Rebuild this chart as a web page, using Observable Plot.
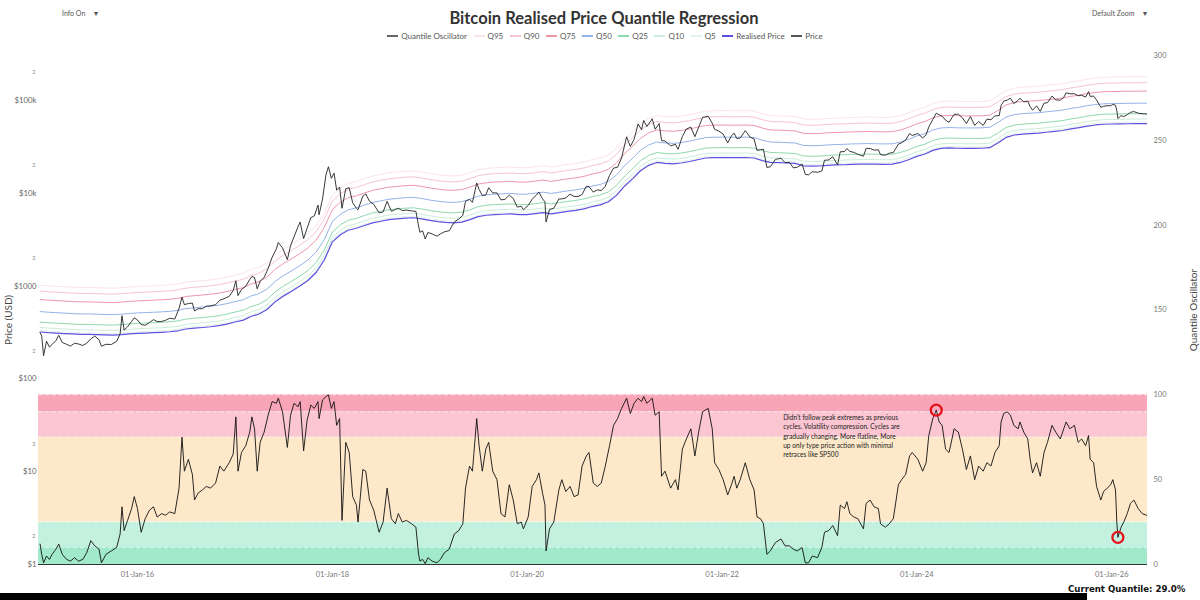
<!DOCTYPE html>
<html><head><meta charset="utf-8">
<script src="https://cdn.jsdelivr.net/npm/d3@7"></script>
<script src="https://cdn.jsdelivr.net/npm/@observablehq/plot@0.6"></script>
<style>
html,body{margin:0;padding:0;background:#fff;}
#wrap{position:relative;width:1200px;height:600px;overflow:hidden;font-family:Lato,"Open Sans",sans-serif;}
#wrap svg{position:absolute;left:0;top:0;overflow:visible;}
#title{position:absolute;top:8px;left:0;width:1208px;text-align:center;font-size:16.5px;font-weight:700;color:#333;}
#legend{position:absolute;top:31px;left:0;width:1210px;display:flex;justify-content:center;gap:6.5px;font-size:8px;color:#555;}
.item{display:flex;align-items:center;gap:3px;white-space:nowrap;}
.sw{display:inline-block;width:11px;height:2px;}
.ctl{position:absolute;top:9px;font-size:7px;color:#555;}
.axt{position:absolute;font-size:10px;color:#444;white-space:nowrap;transform:translate(-50%,-50%) rotate(-90deg);}
#cq{position:absolute;top:584px;left:1068px;font-family:"DejaVu Sans",Verdana,sans-serif;font-weight:700;font-size:8.6px;color:#111;}
#bar{position:absolute;left:0;top:593px;width:1087px;height:7px;background:#000;}
</style></head>
<body>
<div id="wrap">
  <div id="title">Bitcoin Realised Price Quantile Regression</div>
  <div id="legend"></div>
  <div class="ctl" style="left:62px">Info On&nbsp;&nbsp;&nbsp;&nbsp;▼</div>
  <div class="ctl" style="left:1092px">Default Zoom&nbsp;&nbsp;&nbsp;&nbsp;▼</div>
  <div class="axt" style="left:8px;top:320px">Price (USD)</div>
  <div class="axt" style="left:1193px;top:310px">Quantile Oscillator</div>
  <div id="cq">Current Quantile: 29.0%</div>
  <div id="bar"></div>
</div>
<script>
// ---------- data ----------
const dates = [
 // 2015
 "2015-01-01","2015-01-07","2015-01-14","2015-01-25","2015-02-05","2015-02-15","2015-03-01","2015-03-12","2015-03-25","2015-04-10",
 "2015-04-25","2015-05-10","2015-05-25","2015-06-10","2015-06-25","2015-07-10","2015-07-25","2015-08-10","2015-08-19","2015-09-05",
 "2015-09-25","2015-10-15","2015-10-28","2015-11-04","2015-11-12","2015-11-25","2015-12-10","2015-12-20",
 // 2016
 "2016-01-01","2016-01-15","2016-01-30","2016-02-15","2016-03-01","2016-03-15","2016-04-01","2016-04-15","2016-05-01","2016-05-20",
 "2016-06-05","2016-06-16","2016-06-25","2016-07-10","2016-07-25","2016-08-02","2016-08-15","2016-09-01","2016-09-15","2016-10-01",
 "2016-10-20","2016-11-05","2016-11-20","2016-12-10","2016-12-25",
 // 2017
 "2017-01-04","2017-01-12","2017-01-25","2017-02-10","2017-02-25","2017-03-05","2017-03-15","2017-03-25","2017-04-05","2017-04-20",
 "2017-05-05","2017-05-20","2017-06-05","2017-06-12","2017-06-28","2017-07-16","2017-07-28","2017-08-10","2017-08-25","2017-09-02",
 "2017-09-15","2017-09-28","2017-10-12","2017-10-25","2017-11-08","2017-11-12","2017-11-25","2017-12-08","2017-12-17","2017-12-28",
 // 2018
 "2018-01-07","2018-01-17","2018-01-28","2018-02-06","2018-02-20","2018-03-05","2018-03-18","2018-04-01","2018-04-07","2018-04-25",
 "2018-05-06","2018-05-20","2018-06-05","2018-06-25","2018-07-10","2018-07-25","2018-08-10","2018-08-25","2018-09-05","2018-09-20",
 "2018-10-05","2018-10-25","2018-11-10","2018-11-20","2018-11-25","2018-12-05","2018-12-15","2018-12-25",
 // 2019
 "2019-01-10","2019-01-28","2019-02-10","2019-02-25","2019-03-15","2019-04-03","2019-04-20","2019-05-05","2019-05-15","2019-05-30",
 "2019-06-10","2019-06-26","2019-07-05","2019-07-17","2019-07-30","2019-08-10","2019-08-25","2019-09-10","2019-09-25","2019-10-10",
 "2019-10-26","2019-11-10","2019-11-25","2019-12-10","2019-12-18",
 // 2020
 "2020-01-05","2020-01-20","2020-02-05","2020-02-14","2020-02-28","2020-03-08","2020-03-12","2020-03-25","2020-04-10","2020-04-29",
 "2020-05-10","2020-05-25","2020-06-10","2020-06-25","2020-07-10","2020-07-25","2020-08-10","2020-08-20","2020-09-05","2020-09-20",
 "2020-10-05","2020-10-20","2020-11-05","2020-11-20","2020-12-05","2020-12-20",
 // 2021
 "2021-01-08","2021-01-22","2021-02-05","2021-02-20","2021-03-05","2021-03-13","2021-03-25","2021-04-14","2021-04-25","2021-05-10",
 "2021-05-19","2021-06-01","2021-06-22","2021-07-10","2021-07-20","2021-08-05","2021-08-20","2021-09-06","2021-09-21","2021-10-05",
 "2021-10-20","2021-11-10","2021-11-25","2021-12-04","2021-12-20",
 // 2022
 "2022-01-05","2022-01-22","2022-02-05","2022-02-15","2022-02-25","2022-03-10","2022-03-29","2022-04-15","2022-05-01","2022-05-12",
 "2022-05-25","2022-06-05","2022-06-18","2022-07-01","2022-07-20","2022-08-10","2022-08-25","2022-09-10","2022-09-25","2022-10-10",
 "2022-10-28","2022-11-09","2022-11-21","2022-12-05","2022-12-25",
 // 2023
 "2023-01-10","2023-01-20","2023-02-05","2023-02-20","2023-03-10","2023-03-20","2023-04-05","2023-04-14","2023-04-25","2023-05-10",
 "2023-05-25","2023-06-15","2023-06-25","2023-07-10","2023-07-25","2023-08-10","2023-08-18","2023-09-05","2023-09-20","2023-10-05",
 "2023-10-24","2023-11-05","2023-11-20","2023-12-05","2023-12-15",
 // 2024
 "2024-01-05","2024-01-23","2024-02-05","2024-02-15","2024-03-01","2024-03-14","2024-03-25","2024-04-05","2024-04-18","2024-05-01",
 "2024-05-20","2024-06-05","2024-06-20","2024-07-05","2024-07-20","2024-08-05","2024-08-20","2024-09-06","2024-09-20","2024-10-05",
 "2024-10-20","2024-11-05","2024-11-12","2024-11-22","2024-12-05","2024-12-17","2024-12-30",
 // 2025
 "2025-01-15","2025-01-22","2025-02-05","2025-02-20","2025-03-01","2025-03-10","2025-03-25","2025-04-08","2025-04-22","2025-05-05",
 "2025-05-22","2025-06-05","2025-06-22","2025-07-05","2025-07-14","2025-07-28","2025-08-14","2025-08-28","2025-09-10","2025-09-25",
 "2025-10-06","2025-10-12","2025-10-25","2025-11-05","2025-11-21","2025-12-01","2025-12-15","2025-12-28",
 // 2026
 "2026-01-05","2026-01-15","2026-01-20","2026-01-24","2026-02-05","2026-02-15","2026-02-28","2026-03-12","2026-03-25","2026-04-10",
 "2026-04-25","2026-05-12"
];
const price = [
 315,290,178,255,220,235,258,295,247,236, 226,242,238,229,243,270,290,264,225,236, 235,254,305,480,335,365,415,455,
 432,385,378,405,435,415,416,428,450,442, 575,760,630,650,655,540,570,572,608,613, 630,705,730,775,895,
 1140,790,920,995,1180,1270,1240,935,1130,1240, 1550,2050,2520,2950,2580,1930,2720,3400,4350,4900, 3250,4200,5450,5700,7450,5880,8700,16000,19300,14500,
 16500,10800,11700,6900,11200,11500,7900,6900,6650,9300, 9850,8200,7600,6150,6300,8200,6400,6700,6900,6500, 6600,6450,6400,4450,3800,3950,3220,3780,
 3650,3450,3650,3850,3950,4900,5300,5800,8200,8600, 8000,12900,11000,9500,9600,11500,10100,10100,8500,8600, 9550,8800,7100,7250,6650,
 7400,8650,9600,10300,8700,8100,4900,6700,6900,8700, 8700,8900,9800,9250,9250,9700,11900,11800,10300,10900, 10700,11900,15600,18700,19100,24000,
 40600,32000,38000,56000,48500,61000,52500,63500,49000,56500, 37000,36600,32500,33700,29800,40900,49300,51700,40700,51500, 65900,67500,57000,49000,46700,
 43500,35000,41500,44500,39000,39400,47400,40500,38500,29000, 29500,29900,19000,19300,23200,23900,21400,21600,18800,19100, 20600,16000,15800,17100,16850,
 17400,22700,22900,24800,20200,28000,28200,30400,28300,27600, 26300,25100,30500,30400,29200,29400,26100,25700,27100,27500, 33900,35000,37400,44000,42000,
 44100,39500,42700,51800,62400,73000,70000,67800,61300,58200, 71000,71100,65000,56500,67100,54000,59400,53900,63000,62100, 68400,68600,88500,98500,101000,106000,92700,
 100500,106000,96600,98300,86000,78600,87500,76300,93500,94700, 111600,101500,100900,108000,121000,118000,118300,112500,114000,109000, 124700,111000,111500,101300,84500,86500,88000,87800,
 90800,89000,77500,64000,68800,67000,70500,74500,76000,73000, 72000,71500
];
const oscillator = [
 12,6,1,5,3,6,9,12,6,3, 2,4,2,3,7,14,11,9,1,6, 8,10,18,34,20,26,33,40,
 33,19,27,32,34,28,30,29,31,30, 45,75,55,62,53,38,42,44,46,45, 48,58,55,60,65,
 87,55,66,70,78,87,80,55,72,78, 88,96,95,98,90,69,88,95,93,96, 67,85,94,92,96,86,97,99,100,92,
 96,82,86,26,72,66,40,35,25,56, 55,38,32,19,25,45,27,24,30,25, 26,24,22,6,2,3,0.5,4,
 2,1,3,7,9,18,20,24,45,58, 55,86,70,55,68,72,55,50,30,28, 47,38,24,25,21,
 28,46,50,54,42,35,8,21,25,44, 50,43,46,40,41,58,64,66,48,46, 48,58,70,82,86,92,
 98,89,95,98,96,99,95,98,88,90, 52,55,45,50,44,68,74,80,64,78, 90,92,80,60,56,
 50,41,47,52,45,50,60,50,44,28, 27,24,6,8,13,15,11,11,9,8, 10,1,1,5,4,
 10,19,20,23,17,35,33,37,30,28, 27,21,36,38,34,33,24,22,24,27, 47,50,53,64,66,
 62,55,60,76,86,91,84,82,68,66, 80,78,68,56,64,50,58,55,60,58, 66,70,84,89,90,88,82,
 80,84,78,74,62,54,60,52,66,72, 82,78,74,80,84,80,82,72,74,70, 76,62,60,46,38,43,45,47,
 50,44,25,16,22,25,30,36,38,33, 30,29
];
// Realised price, monthly from Jan 2015 to Jun 2026
const realisedStart = "2015-01-01";
const realised = [
 320,315,312,308,305,302,302,300,298,297,300,305,
 310,312,315,318,322,330,345,352,358,365,375,390,
 410,430,470,500,560,680,780,880,1000,1150,1400,1900,
 3000,3600,4000,4200,4500,4800,5000,5200,5300,5400,5450,5300,
 5100,4950,4850,4800,4900,5200,5600,5800,5900,5950,6000,5900,
 5900,6050,6200,6000,6200,6400,6550,6800,7200,7500,8100,9500,
 12000,14500,17500,20000,21500,21000,20800,21200,22000,23000,24000,24200,
 24300,24200,24200,24300,24000,22500,21500,21400,21200,21000,19800,19600,
 19700,20000,20200,20300,20500,20600,20700,20600,20500,20600,21500,23000,
 25000,26500,29000,30500,30800,30600,30500,30500,30600,31000,35000,40000,
 42500,43500,44000,44500,45500,46500,47500,49500,51000,53000,54500,55500,
 55800,56000,56200,56300,56400,56500
];
const quantileNames  = ["Q95","Q90","Q75","Q50","Q25","Q10","Q5"];
const quantileRatios = [3.2, 2.76, 2.24, 1.66, 1.28, 1.12, 1.04];
const quantileColors = ["#fbe3e9","#f6c4cf","#ee97aa","#93b3ea","#8ed9ae","#c9eedc","#e4f4ec"];
const realisedColor = "#5d4fe0";
const priceColor = "#222";
const oscColor = "#111";

const zoneLow    = [0, 10, 25, 75, 90];
const zoneHigh   = [10, 25, 75, 90, 100];
const zoneColors = ["#a0eacb","#c4f1df","#fde9ca","#fbc5d1","#f9a5b8"];

const priceTicks      = [1,2,5,10,20,50,100,200,500,1000,2000,5000,10000,20000,50000,100000,200000];
const priceTickLabels = ["$1","2","5","$10","2","5","$100","2","5","$1000","2","5","$10k","2","5","$100k","2"];
const oscTicks = [0,50,100,150,200,250,300];
const dateTicks = ["2016-01-01","2018-01-01","2020-01-01","2022-01-01","2024-01-01","2026-01-01"];
const xDomain = ["2014-12-26","2026-05-15"];
const priceDomain = [1, 305500];
const oscDomain = [0, 300];

const legendNames  = ["Quantile Oscillator","Q95","Q90","Q75","Q50","Q25","Q10","Q5","Realised Price","Price"];
const legendColors = ["#666", ...quantileColors, realisedColor, "#555"];

const annotation = [{date:"2022-08-18", value:89, text:"Didn't follow peak extremes as previous\ncycles. Volatility compression. Cycles are\ngradually changing. More flatline, More\nup only type price action with minimal\nretraces like SP500"}];
const circledDates = ["2024-03-14","2026-01-24"];

// ---------- build ----------
const rows = dates.map((d,i)=>({date:new Date(d), price:price[i], osc:oscillator[i]}));
const months = d3.utcMonth.range(new Date(realisedStart), d3.utcMonth.offset(new Date(realisedStart), realised.length));
const realRows = months.map((m,i)=>({date:m, value:realised[i]}));
const zones = zoneLow.map((lo,i)=>({lo, hi:zoneHigh[i], color:zoneColors[i]}));
const xd = xDomain.map(d=>new Date(d));
const labelOf = new Map(priceTicks.map((t,i)=>[t, priceTickLabels[i]]));
const majorTicks = priceTicks.filter((t,i)=>priceTickLabels[i].startsWith("$"));
const minorTicks = priceTicks.filter((t,i)=>!priceTickLabels[i].startsWith("$"));
const circled = rows.filter(r=>circledDates.includes(d3.utcFormat("%Y-%m-%d")(r.date)));

const common = {width:1200, height:600, marginTop:55, marginBottom:36, marginLeft:38, marginRight:53,
  style:{background:"transparent", fontFamily:"Lato, 'Open Sans', sans-serif", color:"#666"}};

const oscPlot = Plot.plot({
  ...common,
  x:{type:"utc", domain:xd, axis:null},
  y:{domain:oscDomain, axis:null},
  marks:[
    Plot.rect(zones, {x1:()=>xd[0], x2:()=>xd[1], y1:"lo", y2:"hi", fill:"color"}),
    Plot.ruleY(zoneHigh, {stroke:"#fff", strokeOpacity:0.55, strokeDasharray:"4,3"}),
    Plot.ruleY([0], {stroke:"#333", strokeWidth:1.2}),
    Plot.axisX(dateTicks.map(d=>new Date(d)), {tickSize:0, tickPadding:7, tickFormat:d3.utcFormat("%d-%b-%y"), fontSize:7.5, color:"#777"}),
    Plot.axisY(oscTicks, {anchor:"right", tickSize:0, tickPadding:6, fontSize:7.5, color:"#777"}),
    Plot.line(rows, {x:"date", y:"osc", stroke:oscColor, strokeWidth:0.9, clip:true}),
    Plot.dot(circled, {x:"date", y:"osc", r:5.5, stroke:"#e5121b", strokeWidth:2.3, fill:"none"}),
    Plot.text(annotation, {x:d=>new Date(d.date), y:"value", text:"text", textAnchor:"start", lineAnchor:"top", lineHeight:1.4, fontSize:6.6, fill:"#222"})
  ]
});

const pricePlot = Plot.plot({
  ...common,
  x:{type:"utc", domain:xd, axis:null},
  y:{type:"log", domain:priceDomain, axis:null},
  marks:[
    Plot.axisY(majorTicks, {anchor:"left", tickSize:0, tickPadding:2, tickFormat:d=>labelOf.get(d), fontSize:7.8, color:"#666"}),
    Plot.axisY(minorTicks, {anchor:"left", tickSize:0, tickPadding:3, tickFormat:d=>labelOf.get(d), fontSize:5.5, color:"#888"}),
    ...quantileNames.map((q,i)=>Plot.line(realRows, {x:"date", y:d=>d.value*quantileRatios[i], stroke:quantileColors[i], strokeWidth:1, clip:true})),
    Plot.line(realRows, {x:"date", y:"value", stroke:realisedColor, strokeWidth:1.2, clip:true}),
    Plot.line(rows, {x:"date", y:"price", stroke:priceColor, strokeWidth:0.9, clip:true})
  ]
});

const wrap = document.getElementById("wrap");
wrap.prepend(pricePlot);
wrap.prepend(oscPlot);

const lg = document.getElementById("legend");
legendNames.forEach((n,i)=>{
  const it = document.createElement("div"); it.className="item";
  const sw = document.createElement("span"); sw.className="sw"; sw.style.background=legendColors[i];
  const t = document.createElement("span"); t.textContent=n;
  it.append(sw,t); lg.append(it);
});
</script>
</body></html>
